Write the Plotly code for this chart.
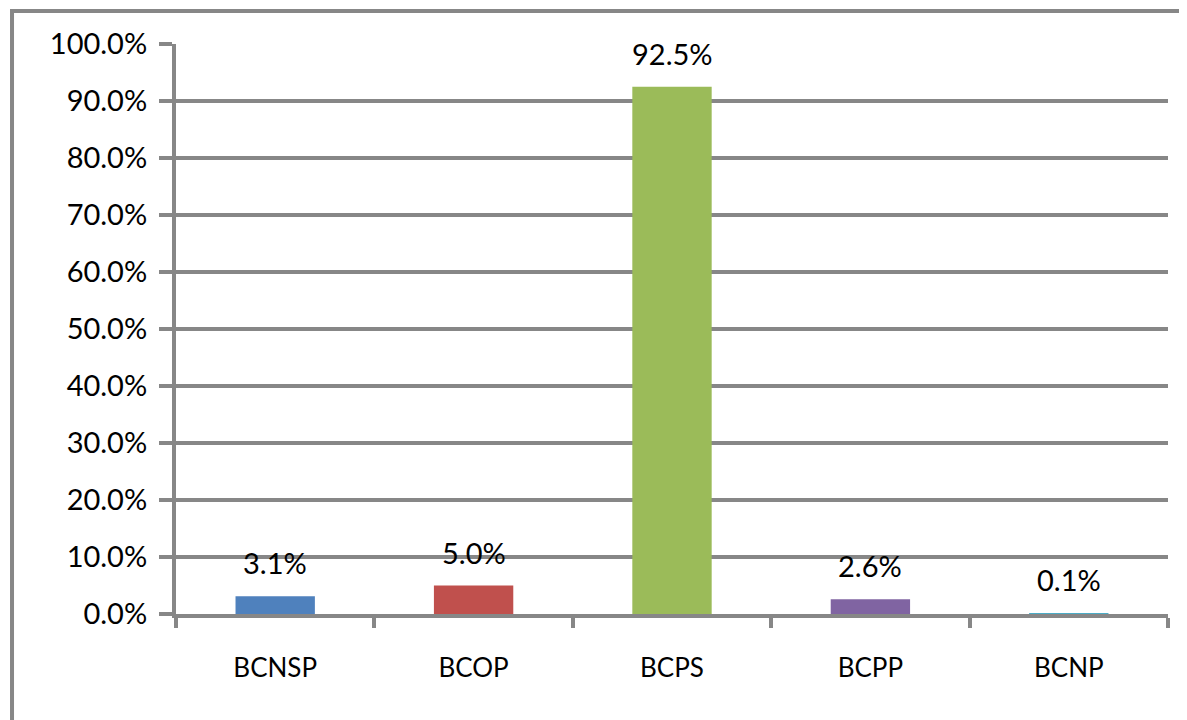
import plotly.graph_objects as go

categories = ["BCNSP", "BCOP", "BCPS", "BCPP", "BCNP"]
shares = [0.031, 0.050, 0.925, 0.026, 0.001]
labels = ["3.1%", "5.0%", "92.5%", "2.6%", "0.1%"]
colors = ["#4F81BD", "#C0504D", "#9BBB59", "#8064A2", "#4BACC6"]

grid = "#878787"
family = "Lato, 'Open Sans', sans-serif"
font = dict(family=family, size=26, color="#000000")

fig = go.Figure(go.Bar(x=categories, y=shares, marker_color=colors, marker_line_width=0))

for c, v, t in zip(categories, shares, labels):
    fig.add_annotation(x=c, y=v, text=t, showarrow=False, yanchor="bottom", yshift=14,
                       font=dict(family=family, size=29, color="#000000"))

# chart border (Excel style frame)
fig.add_shape(type="rect", xref="paper", yref="paper", x0=-0.1653, x1=1.05, y0=-0.3, y1=1.058,
              line=dict(color=grid, width=4), layer="above")

# page body has an 8px margin, so the figure is a bit smaller than the window
fig.update_layout(
    width=1179, height=712,
    margin=dict(l=168, r=19, t=36, b=106),
    paper_bgcolor="white", plot_bgcolor="white",
    font=font, showlegend=False, bargap=0.6,
    xaxis=dict(showline=True, linecolor=grid, linewidth=4, ticks="outside", tickson="boundaries",
               ticklen=10, tickwidth=4, tickcolor=grid, ticklabelstandoff=28, showgrid=False,
               automargin=False, tickfont=dict(family=family, size=26)),
    yaxis=dict(range=[0, 1], dtick=0.1, tickformat=".1%", showgrid=True, gridcolor=grid, gridwidth=4,
               showline=True, linecolor=grid, linewidth=4, ticks="outside", ticklen=13, tickwidth=4,
               tickcolor=grid, zeroline=False, ticklabelstandoff=6, automargin=False,
               tickfont=dict(family=family, size=29)),
)

fig.write_html("out.html")
